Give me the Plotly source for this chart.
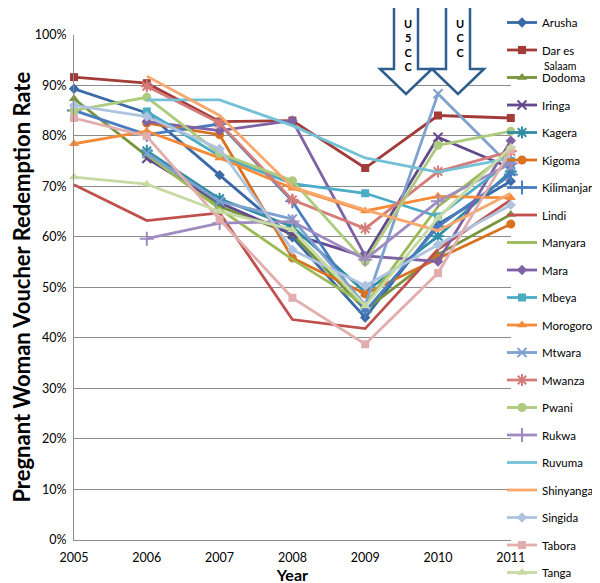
import plotly.graph_objects as go

years = [2005, 2006, 2007, 2008, 2009, 2010, 2011]
year_labels = ["2005", "2006", "2007", "2008", "2009", "2010", "2011"]

arusha = [89.3, 84.5, 72.2, 59.9, 44.0, 62.5, 71.0]
dar_es_salaam = [91.6, 90.4, 82.8, 83.0, 73.6, 84.0, 83.5]
dodoma = [87.3, 76.0, 66.0, 60.5, 45.5, 56.5, 64.4]
iringa = [None, 75.5, 66.7, 60.5, 56.0, 79.7, 73.6]
kagera = [None, 77.0, 67.5, 62.0, 49.0, 60.1, 72.9]
kigoma = [None, 82.5, 80.2, 55.8, 48.7, 55.7, 62.5]
kilimanjaro = [85.0, 80.2, 82.3, 67.0, 45.2, 62.0, 72.3]
lindi = [70.3, 63.2, 64.7, 43.6, 41.8, 57.5, 67.3]
manyara = [None, 76.2, 65.5, 55.5, 46.5, 66.0, 77.0]
mara = [None, 82.8, 81.0, 83.0, 56.2, 55.1, 79.0]
mbeya = [None, 84.8, 76.0, 70.5, 68.6, 64.0, 75.0]
morogoro = [78.4, 80.9, 75.6, 69.6, 65.1, 68.0, 67.7]
mtwara = [None, 76.5, 67.0, 63.5, 46.5, 88.3, 73.9]
mwanza = [None, 89.8, 82.5, 67.3, 61.6, 72.9, 76.9]
pwani = [85.0, 87.6, 76.5, 71.1, 55.1, 78.1, 80.9]
rukwa = [None, 59.6, 62.7, 63.0, 55.5, 67.0, 74.5]
ruvuma = [None, 87.1, 87.1, 82.0, 75.6, 72.8, 75.6]
shinyanga = [None, 91.8, 84.0, 69.8, 65.3, 61.2, 68.6]
singida = [86.0, 83.8, 77.4, 57.4, 50.3, 58.4, 66.3]
tabora = [83.5, 79.9, 63.4, 47.9, 38.7, 52.8, 77.2]
tanga = [71.8, 70.4, 65.0, 61.4, 46.3, 63.7, 77.7]

region_names = ["Arusha", "Dar es", "Dodoma", "Iringa", "Kagera", "Kigoma",
                "Kilimanjaro", "Lindi", "Manyara", "Mara", "Mbeya", "Morogoro",
                "Mtwara", "Mwanza", "Pwani", "Rukwa", "Ruvuma", "Shinyanga",
                "Singida", "Tabora", "Tanga"]
region_values = [arusha, dar_es_salaam, dodoma, iringa, kagera, kigoma,
                 kilimanjaro, lindi, manyara, mara, mbeya, morogoro,
                 mtwara, mwanza, pwani, rukwa, ruvuma, shinyanga,
                 singida, tabora, tanga]

colors = ["#3A6AA6", "#A33B39", "#77953B", "#634A8C", "#2F8EA6", "#D9711E",
          "#4A7DC0", "#C0504D", "#9BBB59", "#7F62A3", "#4BACC6", "#F38B3A",
          "#7EA1D0", "#D47C7A", "#AECB7D", "#9F8BBF", "#73C1D6", "#F9A86B",
          "#ADC3E0", "#E2AEAD", "#C7DAA3"]
symbols = ["diamond", "square", "triangle-up", "x-thin", "asterisk", "circle",
           "cross-thin", None, None, "diamond", "square", "triangle-up",
           "x-thin", "asterisk", "circle", "cross-thin", None, None,
           "diamond", "square", "triangle-up"]
sizes = {"diamond": 8, "square": 8, "triangle-up": 9, "x-thin": 9,
         "asterisk": 10, "circle": 9, "cross-thin": 10}

W, H = 600, 583
x0_px, x1_px = 66, 502.8
y0_px, y1_px = 531.7, 26.7

fig = go.Figure()
for i, (nm, vals) in enumerate(zip(region_names, region_values)):
    sym = symbols[i]
    col = colors[i]
    kw = dict(x=years, y=vals, name=nm, legendgroup="g%d" % i,
              line=dict(color=col, width=2.8), cliponaxis=False,
              connectgaps=False)
    if sym is None:
        kw["mode"] = "lines"
    else:
        kw["mode"] = "lines+markers"
        thin = sym in ("x-thin", "asterisk", "cross-thin")
        kw["marker"] = dict(symbol=sym, size=sizes[sym], color=col,
                            line=dict(color=col, width=2 if thin else 0))
    fig.add_trace(go.Scatter(**kw))

font_family = "Lato, Carlito, Calibri, sans-serif"

fig.update_layout(
    width=W, height=H,
    margin=dict(l=0, r=0, t=0, b=0, pad=0, autoexpand=False),
    paper_bgcolor="white", plot_bgcolor="white",
    font=dict(family=font_family, size=12, color="black"),
    showlegend=True,
    legend=dict(x=494 / W, xanchor="left", y=1, yanchor="top",
                traceorder="grouped", tracegroupgap=8.5,
                bgcolor="rgba(0,0,0,0)", borderwidth=0,
                font=dict(family=font_family, size=11.5, color="black")),
    xaxis=dict(domain=[x0_px / W, x1_px / W], range=[2005, 2011],
               automargin=False,
               tickmode="array", tickvals=years, ticktext=year_labels,
               showgrid=False, zeroline=False, showline=True,
               linecolor="#8C8C8C", linewidth=1,
               ticks="outside", ticklen=6, tickcolor="rgba(0,0,0,0)",
               tickfont=dict(size=12.5),
               title=dict(text="<b>Year</b>", font=dict(size=16), standoff=0)),
    yaxis=dict(domain=[1 - y0_px / H, 1 - y1_px / H], range=[0, 100],
               automargin=False,
               dtick=10, ticksuffix="%", showgrid=True, gridcolor="#8C8C8C",
               gridwidth=1, zeroline=False, showline=True,
               linecolor="#8C8C8C", linewidth=1,
               ticks="outside", ticklen=4, tickcolor="rgba(0,0,0,0)",
               tickfont=dict(size=12.5),
               title=dict(text="<b>Pregnant Woman Voucher Redemption Rate</b>",
                          font=dict(size=22), standoff=18)),
)

def px(x):
    return x / W

def py(y):
    return 1 - y / H

def arrow_path(cx, shaft_half, head_half, shaft_bottom, tip, top):
    pts = [(cx - shaft_half, top), (cx + shaft_half, top),
           (cx + shaft_half, shaft_bottom), (cx + head_half, shaft_bottom),
           (cx, tip), (cx - head_half, shaft_bottom),
           (cx - shaft_half, shaft_bottom)]
    return "M " + " L ".join("%.5f,%.5f" % (px(a), py(b)) for a, b in pts) + " Z"

arrow_color = "#2F5E8E"
for cx in (398, 450):
    fig.add_shape(type="path", xref="paper", yref="paper",
                  path=arrow_path(cx, 12, 26, 61, 86, -3),
                  line=dict(color=arrow_color, width=2.5), fillcolor="white",
                  layer="above")

fig.add_annotation(xref="paper", yref="paper", x=px(399.5), y=py(7),
                   xanchor="center", yanchor="top", showarrow=False,
                   text="<b>U<br>5<br>C<br>C</b>", align="center",
                   font=dict(family=font_family, size=11, color="black"))
fig.add_annotation(xref="paper", yref="paper", x=px(452), y=py(7),
                   xanchor="center", yanchor="top", showarrow=False,
                   text="<b>U<br>C<br>C</b>", align="center",
                   font=dict(family=font_family, size=11, color="black"))
# second line of the "Dar es Salaam" legend entry
fig.add_annotation(xref="paper", yref="paper", x=px(535), y=py(58),
                   xanchor="left", yanchor="middle", showarrow=False,
                   borderpad=0,
                   text="Salaam", font=dict(family=font_family, size=10.5, color="black"))

fig.write_html("out.html")
